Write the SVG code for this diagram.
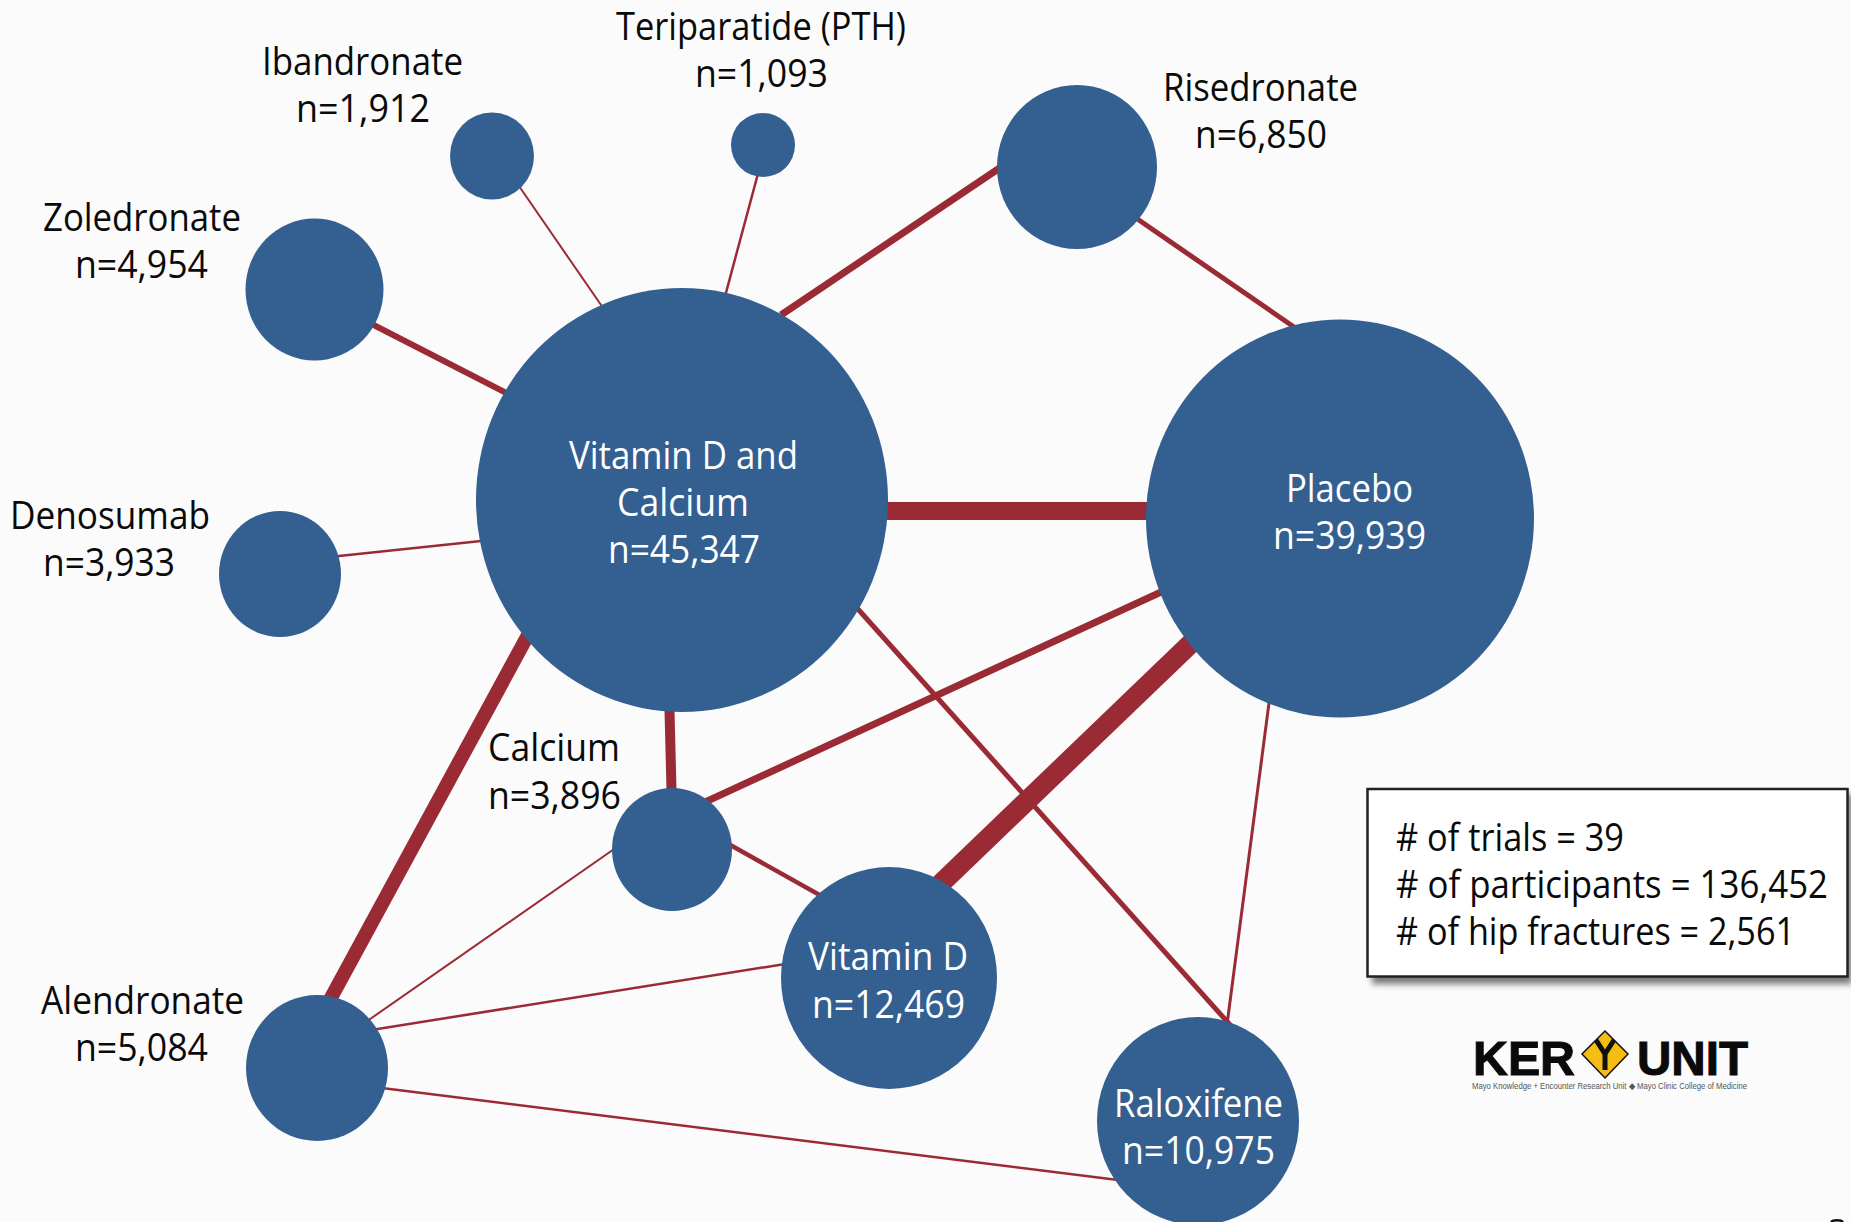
<svg xmlns="http://www.w3.org/2000/svg" width="1851" height="1222" viewBox="0 0 1851 1222">
<defs>
<style>
.e{stroke:#9a2b35;fill:none}
.n{fill:#335f91}
text{font-family:"Open Sans","Noto Sans",sans-serif;font-size:38px;fill:#0a0a0a}
.w{fill:#fff}
.k{font-family:"Liberation Sans",Arial,sans-serif;font-weight:bold;font-size:48px;fill:#0a0a0a;stroke:#0a0a0a;stroke-width:1}
.s{font-family:"Liberation Sans",Arial,sans-serif;font-size:8.5px;fill:#555}
</style>
<filter id="sh" x="-5%" y="-5%" width="112%" height="120%"><feGaussianBlur stdDeviation="3"/></filter>
</defs>
<rect width="1851" height="1222" fill="#fbfbfb"/>
<g id="connectors">
<line class="e" stroke-width="18" x1="682" y1="511" x2="1340" y2="511"/>
<line class="e" stroke-width="7" x1="781" y1="315" x2="1010" y2="161"/>
<line class="e" stroke-width="5" x1="1120" y1="207" x2="1310" y2="338"/>
<line class="e" stroke-width="6" x1="360" y1="318" x2="520" y2="400"/>
<line class="e" stroke-width="2" x1="510" y1="173" x2="610" y2="318"/>
<line class="e" stroke-width="2.5" x1="763" y1="155" x2="720" y2="315"/>
<line class="e" stroke-width="2.5" x1="320" y1="558" x2="500" y2="539"/>
<line class="e" stroke-width="14" x1="540" y1="613" x2="320" y2="1018"/>
<line class="e" stroke-width="10" x1="669" y1="690" x2="672" y2="810"/>
<line class="e" stroke-width="5" x1="840" y1="589" x2="1240" y2="1036"/>
<line class="e" stroke-width="7" x1="1185" y1="581" x2="690" y2="809"/>
<line class="e" stroke-width="20" x1="1210" y1="625" x2="930" y2="894"/>
<line class="e" stroke-width="3" x1="1272" y1="680" x2="1225" y2="1040"/>
<line class="e" stroke-width="4.5" x1="700" y1="828" x2="850" y2="912"/>
<line class="e" stroke-width="2" x1="640" y1="831" x2="340" y2="1040"/>
<line class="e" stroke-width="2.5" x1="340" y1="1035" x2="810" y2="960"/>
<line class="e" stroke-width="2.5" x1="350" y1="1084" x2="1150" y2="1184"/>
</g>
<g id="vitd-calcium"><ellipse class="n" cx="682" cy="500" rx="206" ry="212"/>
<text class="w" x="569" y="469" textLength="229" lengthAdjust="spacingAndGlyphs">Vitamin D and</text>
<text class="w" x="617" y="516" textLength="132" lengthAdjust="spacingAndGlyphs">Calcium</text>
<text class="w" x="608" y="563" textLength="152" lengthAdjust="spacingAndGlyphs">n=45,347</text></g>
<g id="placebo"><ellipse class="n" cx="1340" cy="518.500" rx="194" ry="199"/>
<text class="w" x="1286" y="502" textLength="127" lengthAdjust="spacingAndGlyphs">Placebo</text>
<text class="w" x="1273" y="549" textLength="153" lengthAdjust="spacingAndGlyphs">n=39,939</text></g>
<g id="risedronate"><ellipse class="n" cx="1077" cy="167" rx="80" ry="82"/>
<text x="1163" y="101" textLength="195" lengthAdjust="spacingAndGlyphs">Risedronate</text>
<text x="1195" y="148" textLength="132" lengthAdjust="spacingAndGlyphs">n=6,850</text></g>
<g id="teriparatide"><ellipse class="n" cx="763" cy="145" rx="32" ry="32"/>
<text x="616" y="40" textLength="290" lengthAdjust="spacingAndGlyphs">Teriparatide (PTH)</text>
<text x="695" y="87" textLength="133" lengthAdjust="spacingAndGlyphs">n=1,093</text></g>
<g id="ibandronate"><ellipse class="n" cx="492" cy="156" rx="42" ry="43.5"/>
<text x="262" y="75" textLength="201" lengthAdjust="spacingAndGlyphs">Ibandronate</text>
<text x="296" y="122" textLength="134" lengthAdjust="spacingAndGlyphs">n=1,912</text></g>
<g id="zoledronate"><ellipse class="n" cx="314.500" cy="289.500" rx="69" ry="71"/>
<text x="43" y="231" textLength="198" lengthAdjust="spacingAndGlyphs">Zoledronate</text>
<text x="75" y="278" textLength="133" lengthAdjust="spacingAndGlyphs">n=4,954</text></g>
<g id="denosumab"><ellipse class="n" cx="280" cy="574" rx="61" ry="63"/>
<text x="10" y="529" textLength="200" lengthAdjust="spacingAndGlyphs">Denosumab</text>
<text x="43" y="576" textLength="132" lengthAdjust="spacingAndGlyphs">n=3,933</text></g>
<g id="calcium"><ellipse class="n" cx="672" cy="849.500" rx="60" ry="61.500"/>
<text x="488" y="761" textLength="132" lengthAdjust="spacingAndGlyphs">Calcium</text>
<text x="488" y="809" textLength="133" lengthAdjust="spacingAndGlyphs">n=3,896</text></g>
<g id="vitd"><ellipse class="n" cx="889" cy="978" rx="108" ry="111"/>
<text class="w" x="808" y="970" textLength="160" lengthAdjust="spacingAndGlyphs">Vitamin D</text>
<text class="w" x="812" y="1018" textLength="153" lengthAdjust="spacingAndGlyphs">n=12,469</text></g>
<g id="alendronate"><ellipse class="n" cx="317" cy="1068" rx="71" ry="73"/>
<text x="41" y="1014" textLength="203" lengthAdjust="spacingAndGlyphs">Alendronate</text>
<text x="75" y="1061" textLength="133" lengthAdjust="spacingAndGlyphs">n=5,084</text></g>
<g id="raloxifene"><ellipse class="n" cx="1198" cy="1121" rx="101" ry="104"/>
<text class="w" x="1114" y="1117" textLength="169" lengthAdjust="spacingAndGlyphs">Raloxifene</text>
<text class="w" x="1122" y="1164" textLength="153" lengthAdjust="spacingAndGlyphs">n=10,975</text></g>
<g id="stats">
<rect x="1372" y="794" width="480" height="190" fill="#222" opacity=".6" filter="url(#sh)"/>
<rect x="1367.500" y="789" width="480" height="187.500" fill="#fff" stroke="#222" stroke-width="2.500"/>
<text x="1396" y="851" textLength="228" lengthAdjust="spacingAndGlyphs"># of trials = 39</text>
<text x="1396" y="898" textLength="432" lengthAdjust="spacingAndGlyphs"># of participants = 136,452</text>
<text x="1396" y="945" textLength="399" lengthAdjust="spacingAndGlyphs"># of hip fractures = 2,561</text>
</g>
<g id="logo">
<text class="k" x="1473" y="1075" textLength="102" lengthAdjust="spacingAndGlyphs">KER</text>
<polygon points="1605,1031 1628,1054 1605,1078 1582,1054" fill="#f5bd14" stroke="#111" stroke-width="1.500"/>
<path d="M1596,1040L1605,1054L1614,1040M1605,1054V1070" fill="none" stroke="#111" stroke-width="5"/>
<text class="k" x="1637" y="1075" textLength="111" lengthAdjust="spacingAndGlyphs">UNIT</text>
<text class="s" x="1472" y="1089" textLength="275" lengthAdjust="spacingAndGlyphs">Mayo Knowledge + Encounter Research Unit ◆ Mayo Clinic College of Medicine</text>
</g>
<path id="page-mark" d="M1831,1222A6.500,3 0 0 1 1843,1222" fill="none" stroke="#111" stroke-width="2.500"/>
</svg>
